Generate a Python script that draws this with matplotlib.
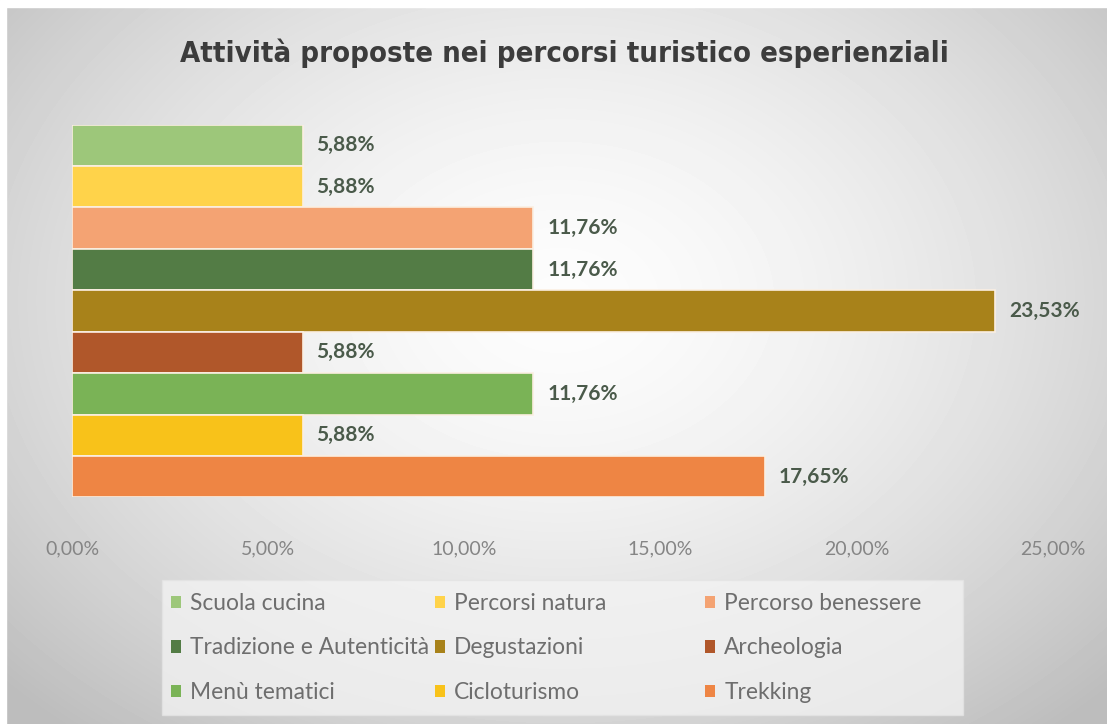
import matplotlib
matplotlib.use("Agg")
import matplotlib.pyplot as plt
import numpy as np
from matplotlib.patches import Patch, Rectangle

# attività, dall'alto verso il basso
categorie = ["Scuola cucina", "Percorsi natura", "Percorso benessere",
             "Tradizione e Autenticità", "Degustazioni", "Archeologia",
             "Menù tematici", "Cicloturismo", "Trekking"]
percentuali = [5.88, 5.88, 11.76, 11.76, 23.53, 5.88, 11.76, 5.88, 17.65]
colori = ["#9DC77A", "#FFD34A", "#F4A373", "#537C45", "#A8821A",
          "#B0572A", "#7AB356", "#F8C21A", "#EE8544"]
tick_x = [0, 5, 10, 15, 20, 25]

titolo = "Attività proposte nei percorsi turistico esperienziali"

W, H = 1107, 724


def fmt_pct(v):
    return f"{v:.2f}%".replace(".", ",")


fig = plt.figure(figsize=(W / 100, H / 100), dpi=100)

# sfondo con sfumatura radiale
bg = fig.add_axes([0, 0, 1, 1], zorder=-10)
yy, xx = np.mgrid[0:H, 0:W]
r = np.sqrt(((xx - 560) / 700.0) ** 2 + ((yy - 300) / 520.0) ** 2)
shade = np.clip(0.99 - 0.22 * r ** 1.6, 0.74, 1.0)
bg.imshow(shade, cmap="gray", vmin=0, vmax=1, aspect="auto",
          extent=[0, 1, 0, 1], origin="upper")
bg.axis("off")
# bordo bianco in alto e a sinistra
fig.patches.append(Rectangle((0, 0.99), 1, 0.01, transform=fig.transFigure,
                             color="white", zorder=-5))
fig.patches.append(Rectangle((0, 0), 0.005, 1, transform=fig.transFigure,
                             color="white", zorder=-5))

ax = fig.add_axes([72 / W, 0.313, (1053 - 72) / W, 0.515])
ax.patch.set_alpha(0)
pos = np.arange(len(categorie))[::-1]
bars = ax.barh(pos, percentuali, height=1.0, color=colori,
               edgecolor="#FBEFE2", linewidth=1.2)
for b, v in zip(bars, percentuali):
    ax.text(v + 0.35, b.get_y() + b.get_height() / 2, fmt_pct(v),
            va="center", ha="left", fontsize=15, fontweight="bold",
            color="#4A5A4A", family=["Lato", "DejaVu Sans"])

ax.set_xlim(0, 25)
ax.set_ylim(-0.5, len(categorie) - 0.5)
ax.set_xticks(tick_x)
ax.set_xticklabels([fmt_pct(t) for t in tick_x], color="#858585",
                   fontsize=14, family=["Lato", "DejaVu Sans"])
ax.tick_params(axis="x", length=0, pad=31)
ax.set_yticks([])
for s in ax.spines.values():
    s.set_visible(False)

fig.text(0.51, 0.926, titolo, ha="center", va="center", fontsize=21,
         fontweight="bold", color="#3C3C3C", family="DejaVu Sans",
         fontstretch="condensed")

# riquadro della legenda
fig.patches.append(Rectangle((162 / W, 1 - 715 / H), (963 - 162) / W,
                             (715 - 580) / H, transform=fig.transFigure,
                             facecolor="#F4F4F4", edgecolor="#E4E4E4",
                             alpha=0.75, lw=1, zorder=1))

# legenda su tre colonne a larghezza fissa, riempita per righe
handles = [Patch(facecolor=c, label=l) for c, l in zip(colori, categorie)]
col_x = [171, 435, 705]
for j, x0 in enumerate(col_x):
    idx = [j, j + 3, j + 6]
    leg = fig.legend([handles[i] for i in idx], [categorie[i] for i in idx],
                     loc="center left", bbox_to_anchor=(x0 / W, 1 - 648 / H),
                     frameon=False, borderpad=0, borderaxespad=0,
                     handlelength=0.45, handleheight=0.45, handletextpad=0.4,
                     labelspacing=1.04,
                     prop={"family": ["Lato", "DejaVu Sans"], "size": 16.4})
    for t in leg.get_texts():
        t.set_color("#6E6E6E")

fig.savefig("out.png", dpi=100)
